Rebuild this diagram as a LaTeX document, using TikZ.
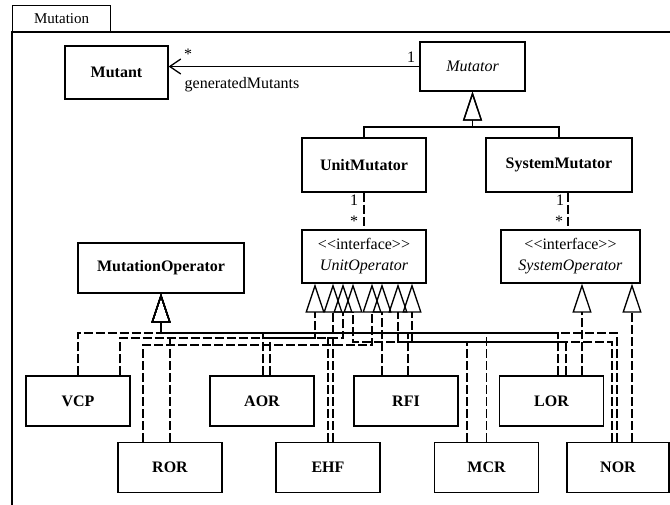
\documentclass[tikz,border=0pt]{standalone}
\usepackage{fontspec}
\setmainfont{Liberation Serif}
\usetikzlibrary{arrows.meta}

\begin{document}
\begin{tikzpicture}[x=1pt, y=-1pt, line width=1.3pt,
                cls/.style={draw, line width=1.3pt, inner sep=0pt, minimum width=104pt, minimum height=50pt, font=\fontsize{16}{19}\selectfont\bfseries},
                abs/.style={cls, font=\fontsize{16}{19}\selectfont\itshape},
                iface/.style={cls, align=center, font=\fontsize{16}{21}\selectfont},
                lbl/.style={inner sep=0pt, font=\fontsize{16}{19}\selectfont},
                real/.style={dash pattern=on 9pt off 3pt},
                realtip/.style={real, -{Triangle[open, length=29pt, width=19pt]}},
                gen/.style={-{Triangle[open, length=29pt, width=19pt]}},
                assoc/.style={-{Straight Barb[length=11pt, width=15pt]}}]
                \useasboundingbox (0,0) rectangle (670,504);
                \clip (0,0) rectangle (670,504);
                \node[draw, minimum width=98pt, minimum height=26pt, inner sep=0pt, anchor=south west, font=\fontsize{15}{18}\selectfont] (tab) at (12,32) {Mutation};
                \draw (12,32) rectangle (700,540);
                \node[cls, minimum width=103pt, minimum height=53pt] (mutant) at (116.5,72.5) {Mutant};
                \node[abs, minimum width=105pt, minimum height=49pt] (mutator) at (472.5,66.5) {Mutator};
                \node[cls, minimum width=124pt, minimum height=54pt] (umut) at (364,165) {UnitMutator};
                \node[cls, minimum width=146pt, minimum height=54pt] (smut) at (559,165) {SystemMutator};
                \node[iface, minimum width=124pt, minimum height=53pt] (uop) at (364,256.5) {<\kern0pt<interface>\kern0pt>\\\textit{UnitOperator}};
                \node[iface, minimum width=139pt, minimum height=53pt] (sop) at (570.5,256.5) {<\kern0pt<interface>\kern0pt>\\\textit{SystemOperator}};
                \node[cls, minimum width=166pt] (mop) at (161,268) {MutationOperator};
                \node[cls] (vcp) at (78,401) {VCP};
                \node[cls] (aor) at (262,401) {AOR};
                \node[cls] (rfi) at (406,401) {RFI};
                \node[cls] (lor) at (551.5,401) {LOR};
                \node[cls] (ror) at (170,467.5) {ROR};
                \node[cls] (ehf) at (328,467.5) {EHF};
                \node[cls] (mcr) at (486.5,467.5) {MCR};
                \node[cls, minimum width=102pt] (nor) at (618,467.5) {NOR};
                \draw[assoc] (mutator.west) -- (mutator.west -| mutant.east);
                \node[lbl] (manystar) at (188,54) {*};
                \node[lbl] (mutone) at (411,57) {1};
                \node[lbl, anchor=west] (genlbl) at (184,85) {generatedMutants};
                \coordinate (joint) at (472.5,127);
                \draw[gen] (umut.north) |- (joint) -- (mutator.south);
                \draw[gen] (smut.north) |- (joint) -- (mutator.south);
                \draw[real] (umut.south) -- (uop.north);
                \draw[real] ([xshift=9pt]smut.south) -- ([xshift=-2.5pt]sop.north);
                \node[lbl] (umone) at (354,200) {1};
                \node[lbl] (umstar) at (354,221) {*};
                \node[lbl] (smone) at (560,200) {1};
                \node[lbl] (smstar) at (559,221) {*};
                \coordinate (mbus) at (161,333);
                \draw[realtip] (vcp.north) |- (mbus) -- (mop.south);
                \draw[realtip] (ror.north) |- (mbus) -- (mop.south);
                \draw[realtip] ([xshift=1pt]aor.north) |- (mbus) -- (mop.south);
                \draw[realtip] (ehf.north) |- (mbus) -- (mop.south);
                \draw[realtip] ([xshift=2pt]rfi.north) |- (mbus) -- (mop.south);
                \draw[realtip] (mcr.north) |- (mbus) -- (mop.south);
                \draw[realtip] ([xshift=6.5pt]lor.north) |- (mbus) -- (mop.south);
                \draw[realtip] ([xshift=-1pt]nor.north) |- (mbus) -- (mop.south);
                \draw[realtip] ([xshift=42pt]vcp.north) |- (315,338) -- ([xshift=-49pt]uop.south);
                \draw[realtip] ([xshift=8pt]aor.north) |- (343,338) -- ([xshift=-21pt]uop.south);
                \draw[realtip] ([xshift=-27pt]ror.north) |- (372,345) -- ([xshift=8pt]uop.south);
                \draw[realtip] ([xshift=5pt]ehf.north) -- ([xshift=-31pt]uop.south);
                \draw[realtip] ([xshift=-24pt]rfi.north) -- ([xshift=18pt]uop.south);
                \draw[realtip] ([xshift=-19.5pt]mcr.north) |- (398,342) -- ([xshift=34pt]uop.south);
                \draw[realtip] ([xshift=14.5pt]lor.north) |- (353,342) -- ([xshift=-11pt]uop.south);
                \draw[realtip] ([xshift=-6pt]nor.north) |- (412,342) -- ([xshift=48pt]uop.south);
                \draw[realtip] ([xshift=30.5pt]lor.north) -- ([xshift=11.5pt]sop.south);
                \draw[realtip] ([xshift=14pt]nor.north) -- ([xshift=61.5pt]sop.south);
\end{tikzpicture}
\end{document}
